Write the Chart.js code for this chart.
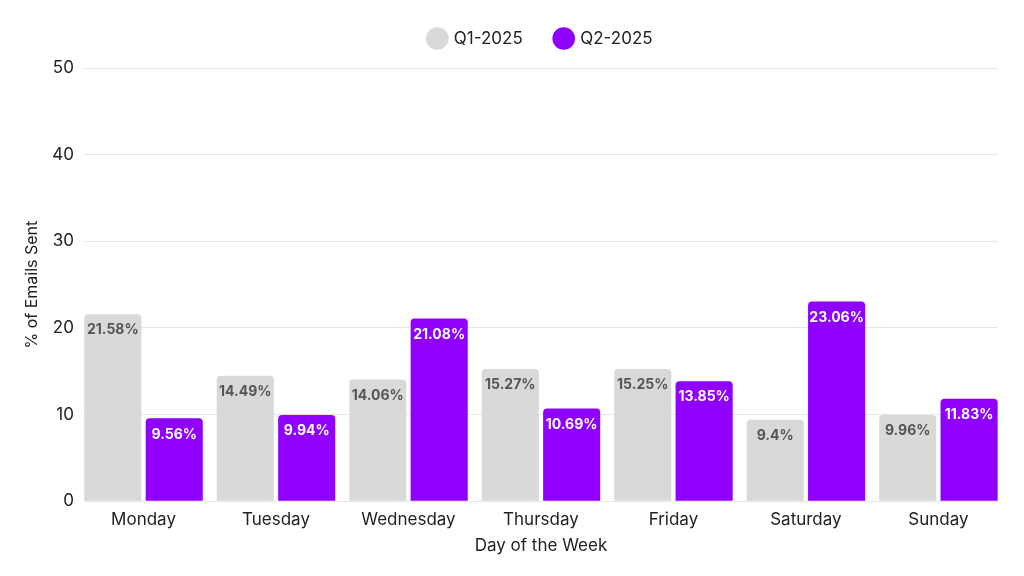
<!DOCTYPE html>
<html><head><meta charset="utf-8">
<script src="https://cdn.jsdelivr.net/npm/chart.js@4"></script>
<style>html,body{margin:0;padding:0;background:#fff}#wrap{width:1024px;height:576px}</style>
</head><body><div id="wrap"><canvas id="c"></canvas></div>
<script>
const categories = ["Monday","Tuesday","Wednesday","Thursday","Friday","Saturday","Sunday"];
const q1Values = [21.58,14.49,14.06,15.27,15.25,9.4,9.96];
const q2Values = [9.56,9.94,21.08,10.69,13.85,23.06,11.83];
const seriesNames = ["Q1-2025","Q2-2025"];
const yTicks = [0,10,20,30,40,50];

const toPoints = arr => arr.map((v,i)=>({x:i,y:v}));

const labelPlugin = {
  id:'barLabels',
  afterDatasetsDraw(chart){
    const ctx = chart.ctx;
    ctx.save();
    ctx.font = 'bold 14px Inter';
    ctx.textAlign = 'center';
    ctx.textBaseline = 'middle';
    chart.data.datasets.forEach((ds,i)=>{
      const meta = chart.getDatasetMeta(i);
      meta.data.forEach((bar,j)=>{
        ctx.fillStyle = i===0 ? '#555555' : '#ffffff';
        ctx.fillText(ds.data[j].y + '%', bar.x, bar.y + 16);
      });
    });
    ctx.restore();
  }
};
const legendSpace = {
  id:'legendSpace',
  beforeInit(chart){
    const orig = chart.legend.fit;
    chart.legend.fit = function(){ orig.bind(chart.legend)(); this.height += 11; };
  },
  afterLayout(chart){
    chart.legend.left = chart.chartArea.left;
    chart.legend.right = chart.chartArea.right;
  }
};

Chart.defaults.font.family = 'Inter';
new Chart(document.getElementById('c'), {
  type:'bar',
  data:{
    datasets:[
      {label:seriesNames[0],data:toPoints(q1Values),backgroundColor:'#d9d9d9',borderRadius:4,borderSkipped:'bottom',barPercentage:0.93,categoryPercentage:0.927},
      {label:seriesNames[1],data:toPoints(q2Values),backgroundColor:'#8f00ff',borderRadius:4,borderSkipped:'bottom',barPercentage:0.93,categoryPercentage:0.927}
    ]
  },
  options:{
    responsive:true,maintainAspectRatio:false,animation:false,
    layout:{padding:{left:23,right:26,top:-3,bottom:16}},
    plugins:{
      legend:{position:'top',labels:{usePointStyle:true,pointStyle:'circle',boxWidth:16,boxHeight:16,padding:33,color:'#222',font:{size:17}}},
      tooltip:{enabled:false}
    },
    scales:{
      x:{type:'linear',min:-0.45,max:6.45,offset:false,
         grid:{display:false},border:{display:false},
         ticks:{stepSize:1,includeBounds:false,autoSkip:false,maxRotation:0,color:'#222',font:{size:17},padding:0,
                callback:(v)=> Number.isInteger(v) && categories[v] !== undefined ? categories[v] : ''},
         title:{display:true,text:'Day of the Week',color:'#222',font:{size:17},padding:{top:6}}},
      y:{min:yTicks[0],max:yTicks[yTicks.length-1],
         afterBuildTicks:(s)=>{ s.ticks = yTicks.map(v=>({value:v})); },
         ticks:{color:'#222',font:{size:17},padding:10},
         grid:{color:'#e6e6e6',drawTicks:false},border:{display:false},
         title:{display:true,text:'% of Emails Sent',color:'#222',font:{size:16},padding:{top:0,bottom:0}}}
    }
  },
  plugins:[labelPlugin,legendSpace]
});
</script></body></html>
